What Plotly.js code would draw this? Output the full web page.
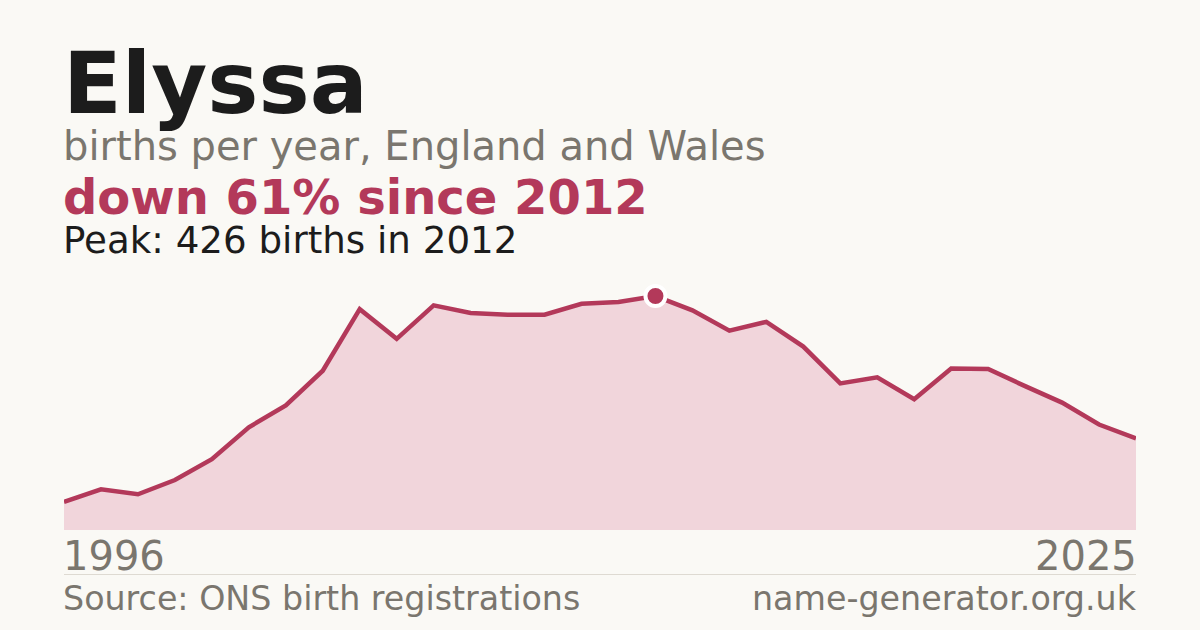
<!DOCTYPE html>
<html>
<head>
<meta charset="utf-8">
<script src="https://cdn.plot.ly/plotly-3.0.1.min.js"></script>
<style>
html,body{margin:0;padding:0;background:#faf9f5;}
#chart{width:1200px;height:630px;}
</style>
</head>
<body>
<div id="chart"></div>
<script>
const years = [1996,1997,1998,1999,2000,2001,2002,2003,2004,2005,2006,2007,2008,2009,2010,2011,2012,2013,2014,2015,2016,2017,2018,2019,2020,2021,2022,2023,2024,2025];
const births = [51,74,65,91,129,187,227,290,402,348,409,395,392,392,412,415,426,400,363,379,334,267,278,238,294,293,262,232,192,167];
const peakYear = 2012;
const peakValue = 426;
const nameLabel = "Elyssa";
const subtitle = "births per year, England and Wales";
const changeLabel = "down 61% since 2012";
const peakLabel = "Peak: 426 births in 2012";
const startLabel = "1996";
const endLabel = "2025";
const sourceLabel = "Source: ONS birth registrations";
const siteLabel = "name-generator.org.uk";

const RED = "#b3395a";
const GREY = "#7a766e";
const FONT = "DejaVu Sans";
const PLOT_H = 530;
const PLOT_W = 1072;
function py(px){ return (PLOT_H - px) / PLOT_H; }
const XL = -2 / PLOT_W;
const XR = 1 + 2 / PLOT_W;

const traces = [
  {
    x: years, y: births, type: "scatter", mode: "lines",
    fill: "tozeroy", fillcolor: "#f1d5db",
    line: {color: RED, width: 4.5},
    hoverinfo: "skip"
  },
  {
    x: [peakYear], y: [peakValue], type: "scatter", mode: "markers",
    marker: {color: RED, size: 20, line: {color: "#ffffff", width: 4}},
    hoverinfo: "skip", cliponaxis: false
  }
];

function ann(text, x, xanchor, yc, size, color, bold){
  return {
    text: bold ? "<b>" + text + "</b>" : text,
    xref: "paper", yref: "paper", x: x, y: py(yc),
    xanchor: xanchor, yanchor: "middle", showarrow: false,
    font: {family: FONT, size: size, color: color},
    borderpad: 0
  };
}

const layout = {
  width: 1200, height: 630,
  margin: {l: 64, r: 64, t: 0, b: 100, pad: 0},
  paper_bgcolor: "#faf9f5", plot_bgcolor: "rgba(0,0,0,0)",
  showlegend: false,
  xaxis: {range: [1996, 2025], visible: false, fixedrange: true},
  yaxis: {range: [0, 965], visible: false, fixedrange: true},
  annotations: [
    ann(nameLabel, XL, "left", 83, 86, "#1c1c1c", true),
    ann(subtitle, XL, "left", 146, 40, GREY, false),
    ann(changeLabel, XL, "left", 197, 48, RED, true),
    ann(peakLabel, XL, "left", 240, 37.2, "#1c1c1c", false),
    ann(startLabel, XL, "left", 556, 40, GREY, false),
    ann(endLabel, XR, "right", 556, 40, GREY, false),
    ann(sourceLabel, XL, "left", 598, 33.3, GREY, false),
    ann(siteLabel, XR, "right", 598, 33.3, GREY, false)
  ],
  shapes: [
    {type: "line", xref: "paper", yref: "paper", x0: 0, x1: 1, y0: py(574.5), y1: py(574.5),
     line: {color: "#dedad2", width: 1}}
  ]
};

Plotly.newPlot("chart", traces, layout, {staticPlot: true, displayModeBar: false});
</script>
</body>
</html>
